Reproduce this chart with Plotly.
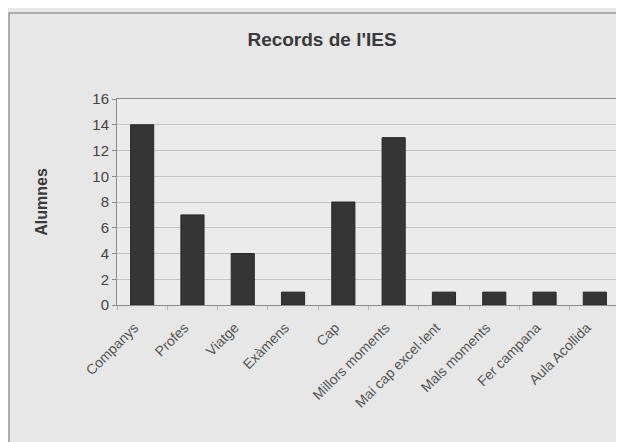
"""Records de l'IES - bar chart."""

import plotly.graph_objects as go

categories = [
    "Companys", "Profes", "Viatge", "Exàmens", "Cap",
    "Millors moments", "Mai cap excel·lent", "Mals moments",
    "Fer campana", "Aula Acollida",
]
alumnes = [14, 7, 4, 1, 8, 13, 1, 1, 1, 1]
y_ticks = [0, 2, 4, 6, 8, 10, 12, 14, 16]

FONT = "Liberation Sans, Arial, sans-serif"
INK = "#3a3a3a"
GRID = "#c4c4c4"

# the page adds an 8px body margin, so the figure is a bit smaller
W, H = 616, 434

fig = go.Figure(
    go.Bar(
        x=categories,
        y=alumnes,
        marker=dict(color="#353535", line=dict(color="#2a2a2a", width=1)),
    )
)

fig.update_layout(
    width=W,
    height=H,
    margin=dict(l=109, r=4, t=91, b=137),
    paper_bgcolor="#e7e7e7",
    plot_bgcolor="#ebebeb",
    bargap=0.54,
    showlegend=False,
    font=dict(family=FONT, size=14, color="#4a4a4a"),
    title=dict(
        text="<b>Records de l'IES</b>",
        x=314 / W, xref="container", xanchor="center",
        y=1 - 31 / H, yref="container", yanchor="middle",
        font=dict(family=FONT, size=19, color=INK),
    ),
)

fig.update_yaxes(
    range=[0, 16],
    tickvals=y_ticks,
    showgrid=True,
    gridcolor=GRID,
    gridwidth=1,
    showline=True,
    linecolor="#8a8a8a",
    mirror=True,
    ticks="outside",
    ticklen=4,
    tickcolor="#8a8a8a",
    zeroline=False,
    tickfont=dict(size=15, color="#444"),
    title=dict(
        text="<b>Alumnes</b>",
        standoff=40,
        font=dict(family=FONT, size=16, color=INK),
    ),
)

fig.update_xaxes(
    tickangle=-45,
    showline=True,
    linecolor="#8a8a8a",
    mirror=True,
    ticks="outside",
    tickson="boundaries",
    ticklen=4,
    tickcolor="#b0b0b0",
    ticklabelstandoff=8,
    ticklabelshift=-8,
    tickfont=dict(size=14, color="#555"),
)

# outer chart frame
fig.add_shape(
    type="rect", xref="paper", yref="paper",
    x0=-0.2147, x1=1.03, y0=-0.72, y1=1.4175,
    line=dict(color="#9a9a9a", width=1.5),
    layer="below",
)

fig.write_html("out.html")
